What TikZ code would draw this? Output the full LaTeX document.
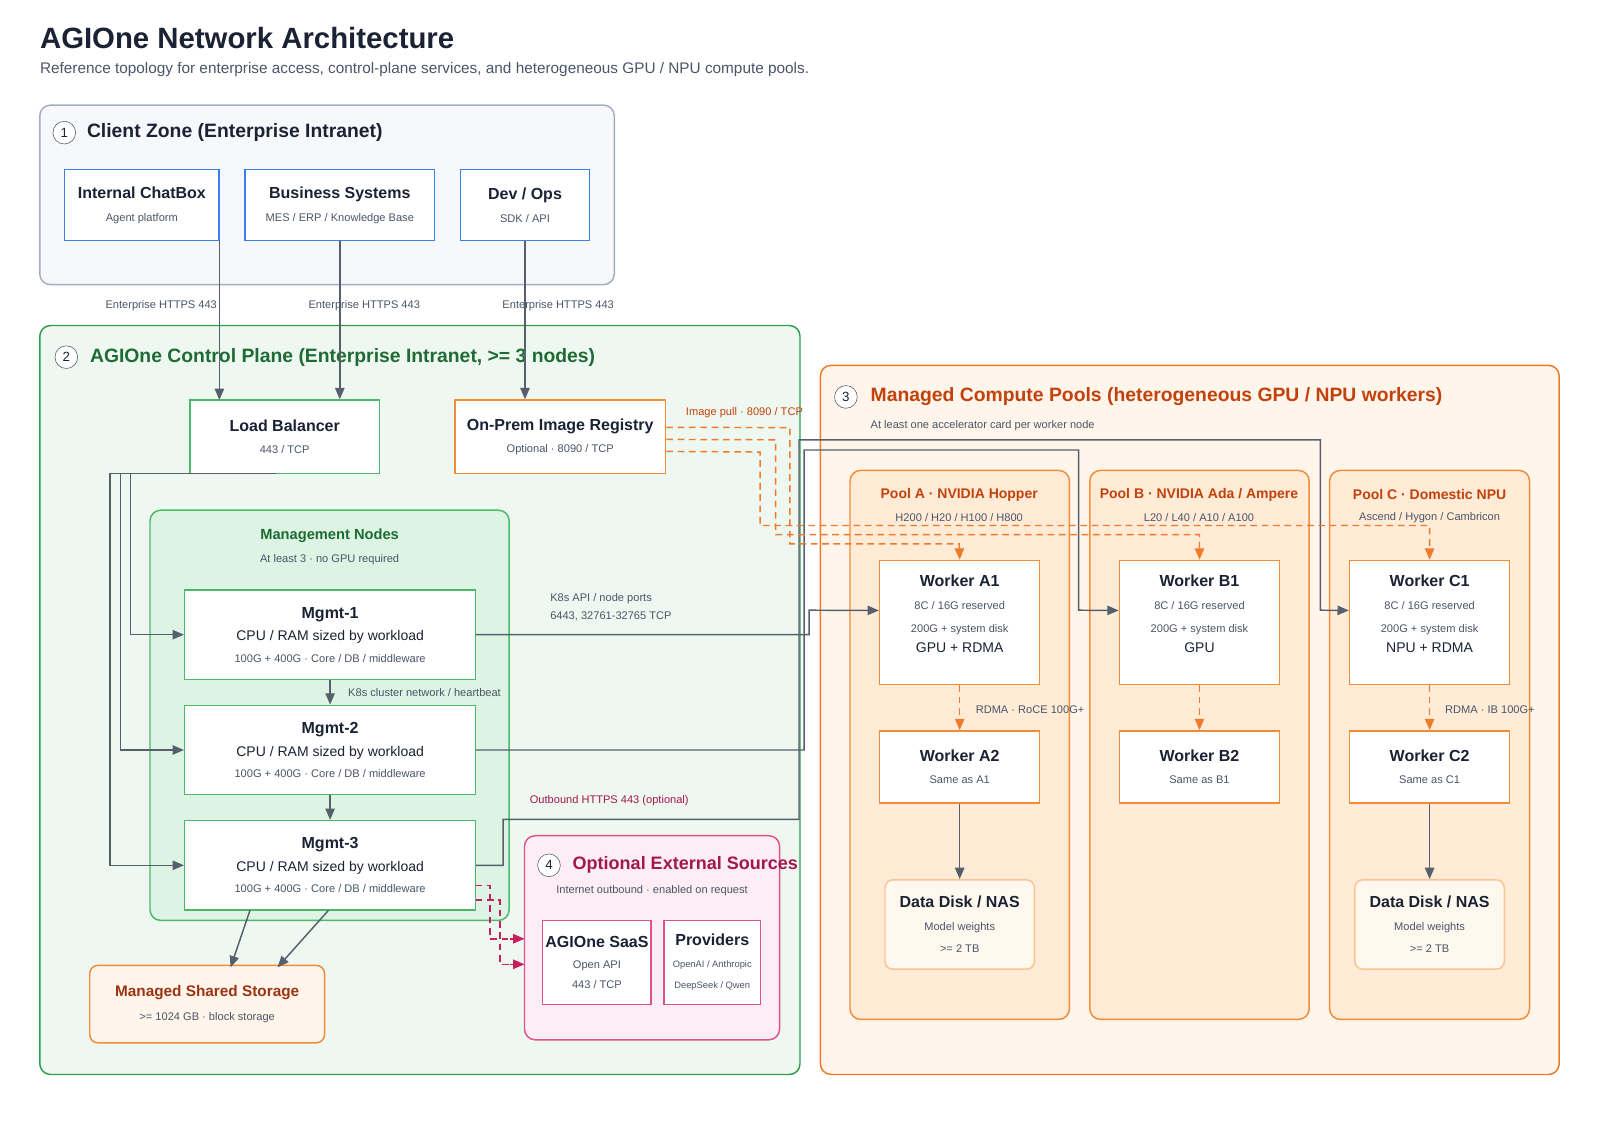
\documentclass[tikz,border=0pt]{standalone}
\usepackage{fontspec}
\setmainfont{Liberation Sans}
\usetikzlibrary{calc, positioning, arrows.meta, shapes}

\definecolor{ink}{HTML}{1A2233}
\definecolor{mute}{HTML}{4A5568}
\definecolor{wire}{HTML}{56606C}
\definecolor{cliFill}{HTML}{F7F8FB}
\definecolor{cliLine}{HTML}{A3ADBD}
\definecolor{blu}{HTML}{3D7FEA}
\definecolor{cpFill}{HTML}{EEF8F0}
\definecolor{cpLine}{HTML}{2E9E4F}
\definecolor{mgFill}{HTML}{DDF3E3}
\definecolor{grn}{HTML}{4CB86A}
\definecolor{grnTxt}{HTML}{1E6B35}
\definecolor{orFill}{HTML}{FFF5EA}
\definecolor{orLine}{HTML}{F07A2A}
\definecolor{poolFill}{HTML}{FFEBD6}
\definecolor{org}{HTML}{F28C38}
\definecolor{orTxt}{HTML}{C2410C}
\definecolor{stTxt}{HTML}{9A3412}
\definecolor{diskFill}{HTML}{FFF8EE}
\definecolor{diskLine}{HTML}{F9C58E}
\definecolor{pkFill}{HTML}{FDEEF5}
\definecolor{pkLine}{HTML}{E0508A}
\definecolor{pkTxt}{HTML}{A3174F}
\definecolor{pkWire}{HTML}{C81E5F}

\newcommand{\ttl}[1]{{\fontsize{12}{14}\selectfont\bfseries\color{ink}#1}}
\newcommand{\mdt}[1]{{\fontsize{10.5}{13}\selectfont\color{ink}#1}}
\newcommand{\sml}[1]{{\fontsize{8.3}{10}\selectfont\color{mute}#1}}

\tikzset{
  zone/.style={draw, rounded corners=8pt, line width=1.1pt},
  box/.style={draw, fill=white, line width=1.1pt, align=center, inner sep=2pt},
  ring/.style={draw=mute, fill=white, circle, minimum size=17pt, inner sep=0pt, font=\fontsize{10}{10}\selectfont\color{ink}},
  conn/.style={draw=wire, line width=1.1pt, -{Triangle[length=8.5pt,width=7pt]}},
  pull/.style={draw=orLine, line width=1.1pt, dash pattern=on 5pt off 3.5pt, -{Triangle[length=8.5pt,width=7pt]}},
  rdma/.style={draw=orLine, line width=1.1pt, dash pattern=on 5pt off 3.5pt, -{Triangle[length=8.5pt,width=7pt]}},
  outb/.style={draw=pkWire, line width=1.1pt, dash pattern=on 5pt off 3.5pt},
  outtip/.style={draw=pkWire, line width=1.1pt, -{Triangle[length=8.5pt,width=7pt]}},
  note/.style={font=\fontsize{8.3}{10}\selectfont\color{mute}, inner sep=0pt},
}

\begin{document}
\begin{tikzpicture}[x=0.765pt, y=-0.765pt]
\useasboundingbox (0,0) rectangle (1568,1098);

% title
\node[anchor=west, inner sep=0pt, font=\fontsize{22}{25}\selectfont\bfseries\color{ink}] (title) at (39,37) {AGIOne Network Architecture};
\node[anchor=west, inner sep=0pt, font=\fontsize{11.5}{13}\selectfont\color{mute}] (subtitle) at (39,68) {Reference topology for enterprise access, control-plane services, and heterogeneous GPU / NPU compute pools.};

% zones
\draw[zone, fill=cliFill, draw=cliLine] (39,103) rectangle (602,279);
\draw[zone, fill=cpFill, draw=cpLine] (39,319) rectangle (784,1053);
\draw[zone, fill=orFill, draw=orLine] (804,358) rectangle (1528,1053);
\draw[zone, fill=mgFill, draw=grn] (147,500) rectangle (499,902);
\draw[zone, fill=pkFill, draw=pkLine] (514,819) rectangle (764,1019);
\draw[zone, fill=poolFill, draw=org] (833,461) rectangle (1048,999);
\draw[zone, fill=poolFill, draw=org] (1068,461) rectangle (1283,999);
\draw[zone, fill=poolFill, draw=org] (1303,461) rectangle (1499,999);

% zone headings
\node[ring] (r1) at (63,130) {1};
\node[anchor=west, inner sep=0pt, font=\fontsize{14.5}{16}\selectfont\bfseries\color{ink}] (z1) at (85,130) {Client Zone (Enterprise Intranet)};
\node[ring] (r2) at (65,350) {2};
\node[anchor=west, inner sep=0pt, font=\fontsize{14.5}{16}\selectfont\bfseries\color{grnTxt}] (z2) at (88,350) {AGIOne Control Plane (Enterprise Intranet, >= 3 nodes)};
\node[ring] (r3) at (829,389) {3};
\node[anchor=west, inner sep=0pt, font=\fontsize{14.5}{16}\selectfont\bfseries\color{orTxt}] (z3) at (853,389) {Managed Compute Pools (heterogeneous GPU / NPU workers)};
\node[note, anchor=west] (z3s) at (853,417) {At least one accelerator card per worker node};
\node[ring] (r4) at (538,848) {4};
\node[anchor=west, inner sep=0pt, font=\fontsize{13.5}{15}\selectfont\bfseries\color{pkTxt}] (z4) at (561,848) {Optional External Sources};
\node[note] (z4s) at (639,873) {Internet outbound · enabled on request};
\node[inner sep=0pt, font=\fontsize{11}{13}\selectfont\bfseries\color{grnTxt}] (mgt) at (323,525) {Management Nodes};
\node[note] (mgs) at (323,548) {At least 3 · no GPU required};

% pool headings
\node[inner sep=0pt, font=\fontsize{10.5}{12}\selectfont\bfseries\color{orTxt}] (pa) at (940,485) {Pool A · NVIDIA Hopper};
\node[note] (pas) at (940,507) {H200 / H20 / H100 / H800};
\node[inner sep=0pt, font=\fontsize{10.5}{12}\selectfont\bfseries\color{orTxt}] (pb) at (1175,485) {Pool B · NVIDIA Ada / Ampere};
\node[note] (pbs) at (1175,507) {L20 / L40 / A10 / A100};
\node[inner sep=0pt, font=\fontsize{10.5}{12}\selectfont\bfseries\color{orTxt}] (pc) at (1401,485) {Pool C · Domestic NPU};
\node[note] (pcs) at (1401,507) {Ascend / Hygon / Cambricon};

% client boxes
\node[box, draw=blu, minimum width=116pt, minimum height=53pt] (chat) at (139,201) {\ttl{Internal ChatBox}\\[5pt]\sml{Agent platform}};
\node[box, draw=blu, minimum width=142pt, minimum height=53pt] (biz) at (333,201) {\ttl{Business Systems}\\[5pt]\sml{MES / ERP / Knowledge Base}};
\node[box, draw=blu, minimum width=97pt, minimum height=53pt] (dev) at (514.5,201) {\ttl{Dev / Ops}\\[5pt]\sml{SDK / API}};

% control plane boxes
\node[box, draw=grn, minimum width=142pt, minimum height=55pt] (lb) at (279,428) {\ttl{Load Balancer}\\[5pt]\sml{443 / TCP}};
\node[box, draw=org, minimum width=158pt, minimum height=55pt] (reg) at (549,428) {\ttl{On-Prem Image Registry}\\[5pt]\sml{Optional · 8090 / TCP}};
\node[box, draw=grn, minimum width=218pt, minimum height=67pt] (m1) at (323.5,622) {\ttl{Mgmt-1}\\[5pt]\mdt{CPU / RAM sized by workload}\\[4pt]\sml{100G + 400G · Core / DB / middleware}};
\node[box, draw=grn, minimum width=218pt, minimum height=67pt] (m2) at (323.5,735) {\ttl{Mgmt-2}\\[5pt]\mdt{CPU / RAM sized by workload}\\[4pt]\sml{100G + 400G · Core / DB / middleware}};
\node[box, draw=grn, minimum width=218pt, minimum height=67pt] (m3) at (323.5,848) {\ttl{Mgmt-3}\\[5pt]\mdt{CPU / RAM sized by workload}\\[4pt]\sml{100G + 400G · Core / DB / middleware}};
\node[box, draw=org, fill=orFill, rounded corners=6pt, minimum width=176pt, minimum height=58pt] (st) at (203,984) {{\fontsize{11.5}{13}\selectfont\bfseries\color{stTxt}Managed Shared Storage}\\[6pt]\sml{>= 1024 GB · block storage}};
\node[box, draw=pkLine, minimum width=78pt, minimum height=63pt] (saas) at (585,943) {\ttl{AGIOne SaaS}\\[4pt]\sml{Open API}\\[3pt]\sml{443 / TCP}};
\node[box, draw=pkLine, minimum width=72pt, minimum height=63pt] (prov) at (698,943) {\ttl{Providers}\\[4pt]{\fontsize{7}{9}\selectfont\color{mute}OpenAI / Anthropic}\\[4pt]{\fontsize{7}{9}\selectfont\color{mute}DeepSeek / Qwen}};

% workers
\node[box, draw=org, minimum width=120pt, minimum height=93pt] (a1) at (940.5,610) {\ttl{Worker A1}\\[5pt]\sml{8C / 16G reserved}\\[5pt]\sml{200G + system disk}\\[3pt]\mdt{GPU + RDMA}\\[1pt]};
\node[box, draw=org, minimum width=120pt, minimum height=54pt] (a2) at (940.5,751.5) {\ttl{Worker A2}\\[5pt]\sml{Same as A1}};
\node[box, draw=diskLine, fill=diskFill, rounded corners=6pt, minimum width=112pt, minimum height=67pt] (da) at (940.5,906) {\ttl{Data Disk / NAS}\\[5pt]\sml{Model weights}\\[5pt]\sml{>= 2 TB}};
\node[box, draw=org, minimum width=120pt, minimum height=93pt] (b1) at (1175.5,610) {\ttl{Worker B1}\\[5pt]\sml{8C / 16G reserved}\\[5pt]\sml{200G + system disk}\\[3pt]\mdt{GPU}\\[1pt]};
\node[box, draw=org, minimum width=120pt, minimum height=54pt] (b2) at (1175.5,751.5) {\ttl{Worker B2}\\[5pt]\sml{Same as B1}};
\node[box, draw=org, minimum width=120pt, minimum height=93pt] (c1) at (1401,610) {\ttl{Worker C1}\\[5pt]\sml{8C / 16G reserved}\\[5pt]\sml{200G + system disk}\\[3pt]\mdt{NPU + RDMA}\\[1pt]};
\node[box, draw=org, minimum width=120pt, minimum height=54pt] (c2) at (1401,751.5) {\ttl{Worker C2}\\[5pt]\sml{Same as C1}};
\node[box, draw=diskLine, fill=diskFill, rounded corners=6pt, minimum width=112pt, minimum height=67pt] (dc) at (1401,906) {\ttl{Data Disk / NAS}\\[5pt]\sml{Model weights}\\[5pt]\sml{>= 2 TB}};

% client -> entry
\draw[conn] (215,236) -- (215,392);
\draw[conn] (biz.south) -- (biz.south |- lb.north);
\draw[conn] (dev.south) -- (dev.south |- reg.north);
\node[note] (h1) at (158,300) {Enterprise HTTPS 443};
\node[note] (h2) at (357,300) {Enterprise HTTPS 443};
\node[note] (h3) at (547,300) {Enterprise HTTPS 443};

% load balancer -> mgmt
\draw[conn] (270,464) -- (128,464) |- (m1.west);
\draw[conn] (270,464) -- (118,464) |- (m2.west);
\draw[conn] (270,464) -- (108,464) |- (m3.west);

% mgmt chain
\draw[conn] (m1.south) -- (m2.north);
\draw[conn] (m2.south) -- (m3.north);
\node[note, anchor=west] (hb) at (341,679) {K8s cluster network / heartbeat};

% mgmt -> storage
\draw[conn] (245,892) -- (226,948);
\draw[conn] (322,892) -- (272,948);

% mgmt -> workers
\draw[conn] (m1.east) -- (793,622) -- (793,598) -- ([yshift=9pt]a1.west);
\draw[conn] (m2.east) -- (788,735) -- (788,441) -- (1057,441) -- (1057,598) -- ([yshift=9pt]b1.west);
\draw[conn] (m3.east) -- (493,848) -- (493,803) -- (783,803) -- (783,431) -- (1294,431) -- (1294,598) -- ([yshift=9pt]c1.west);
\node[note, anchor=west, align=left] (k8s) at (539,595) {K8s API / node ports\\[3pt]6443, 32761-32765 TCP};

% registry -> workers
\draw[pull] ([yshift=7pt]reg.east) -- (774,419) -- (774,533) -- (940,533) -- (a1.north);
\draw[pull] ([yshift=-2pt]reg.east) -- (760,431) -- (760,524) -- (1175.5,524) -- (b1.north);
\draw[pull] ([yshift=-11pt]reg.east) -- (745,443) -- (745,515) -- (1401,515) -- (c1.north);
\node[anchor=west, inner sep=0pt, font=\fontsize{8.3}{10}\selectfont\color{orTxt}] (ip) at (672,404) {Image pull · 8090 / TCP};

% rdma
\draw[rdma] (a1.south) -- (a2.north);
\draw[rdma] (b1.south) -- (b2.north);
\draw[rdma] (c1.south) -- (c2.north);
\node[note, anchor=west] (rd1) at (956,695) {RDMA · RoCE 100G+};
\node[note, anchor=west] (rd2) at (1416,695) {RDMA · IB 100G+};

% data disks
\draw[conn] (a2.south) -- (da.north);
\draw[conn] (c2.south) -- (dc.north);

% outbound
\coordinate (o1) at (500,920);
\coordinate (o2) at (500,945);
\draw[outb] (466,868) -- (480,868) -- (480,920) -- (o1);
\draw[outtip] (o1) -- (514,920);
\draw[outb] (466,882) -- (490,882) -- (490,945) -- (o2);
\draw[outtip] (o2) -- (514,945);
\node[anchor=west, inner sep=0pt, font=\fontsize{8.3}{10}\selectfont\color{pkTxt}] (ob) at (519,785) {Outbound HTTPS 443 (optional)};
\end{tikzpicture}
\end{document}
